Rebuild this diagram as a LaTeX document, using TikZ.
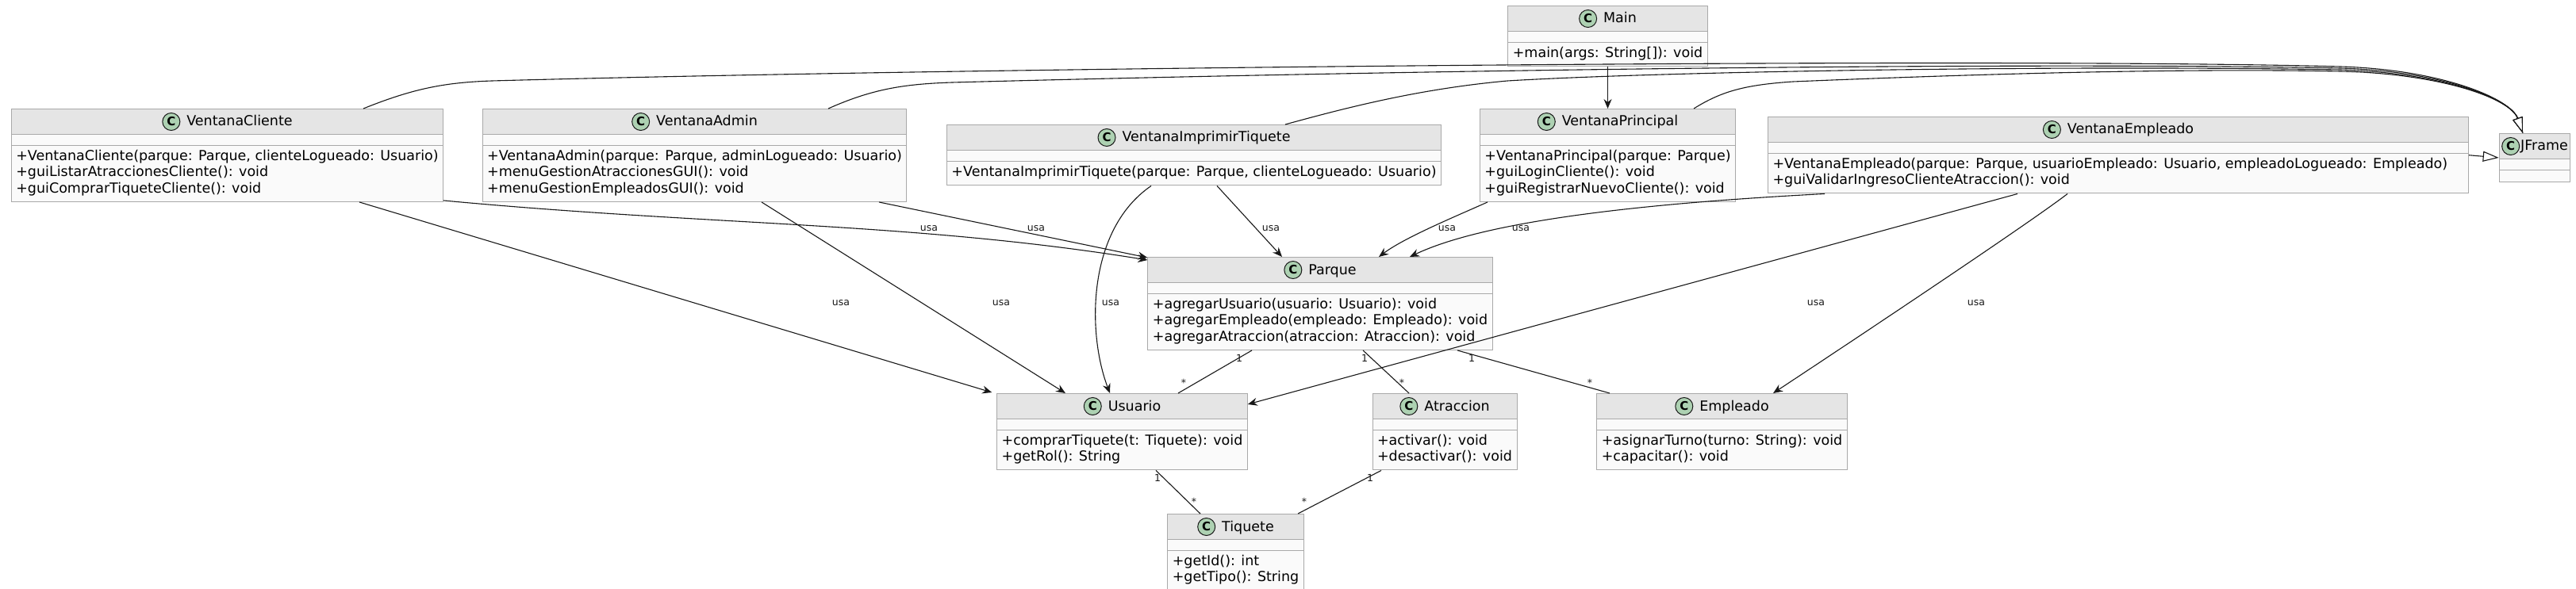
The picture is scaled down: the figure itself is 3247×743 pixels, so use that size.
\documentclass[tikz,border=0pt]{standalone}
\usepackage{fontspec}
\setmainfont{DejaVu Sans}
\usepackage{xcolor}
\usepackage{tikz}
\usetikzlibrary{arrows.meta,shapes.multipart}

\definecolor{headgray}{HTML}{E5E5E5}
\definecolor{bodygray}{HTML}{FAFAFA}
\definecolor{boxgray}{HTML}{A9A9A9}
\definecolor{spotgreen}{HTML}{ADD1B2}
\definecolor{ink}{HTML}{181818}

\newcommand{\spot}{\tikz[baseline={([yshift=-5.5pt]sp.center)}]\node[circle,draw=ink,fill=spotgreen,line width=1pt,minimum size=22pt,inner sep=0pt,font=\bfseries\fontsize{15}{15}\selectfont](sp){C};}
\newcommand{\hd}[2][8pt]{\rule[-6pt]{0pt}{23pt}\spot\hspace{#1}#2}
\newcommand{\topl}{\rule{0pt}{14pt}}
\newcommand{\botl}{\rule[-6.5pt]{0pt}{6.5pt}}
\newcommand{\onel}{\rule[-6.5pt]{0pt}{21pt}}

\begin{document}
\begin{tikzpicture}[x=1pt,y=-1pt,
  umlclass/.style={rectangle split,rectangle split parts=3,draw=boxgray,line width=1pt,
    rectangle split part fill={headgray,bodygray,bodygray},
    rectangle split part align={center,left,left},
    rectangle split empty part height=0pt,rectangle split empty part depth=0pt,
    rectangle split empty part width=0pt,
    inner xsep=6pt,inner ysep=4pt,align=left,anchor=north,
    font=\fontsize{17.5}{20.5}\selectfont},
  dep/.style={draw=ink,line width=1.1pt,-{Stealth[length=12pt,width=10pt,inset=4pt]}},
  gen/.style={draw=ink,line width=1.1pt,-{Triangle[length=20pt,width=13pt,fill=white]}},
  assoc/.style={draw=ink,line width=1.1pt},
  usalab/.style={font=\fontsize{12.5}{14}\selectfont,inner sep=0pt,anchor=base,text=ink},
  mult/.style={font=\fontsize{12.5}{14}\selectfont,inner sep=0pt,anchor=base,text=ink}]
\useasboundingbox (0,0) rectangle (3247,743);

% classes
\node[umlclass] (main) at (2026.5,7) {\hd{Main}\nodepart{two}\nodepart{three}\onel+main(args: String[]): void};
\node[umlclass] (vc) at (286.5,137) {\hd{VentanaCliente}\nodepart{two}\nodepart{three}\topl+VentanaCliente(parque: Parque, clienteLogueado: Usuario)\\+guiListarAtraccionesCliente(): void\\+guiComprarTiqueteCliente(): void\botl};
\node[umlclass] (va) at (875.5,137) {\hd{VentanaAdmin}\nodepart{two}\nodepart{three}\topl+VentanaAdmin(parque: Parque, adminLogueado: Usuario)\\+menuGestionAtraccionesGUI(): void\\+menuGestionEmpleadosGUI(): void\botl};
\node[umlclass] (vit) at (1505,157) {\hd{VentanaImprimirTiquete}\nodepart{two}\nodepart{three}\onel+VentanaImprimirTiquete(parque: Parque, clienteLogueado: Usuario)};
\node[umlclass] (vp) at (2026.5,137) {\hd{VentanaPrincipal}\nodepart{two}\nodepart{three}\topl+VentanaPrincipal(parque: Parque)\\+guiLoginCliente(): void\\+guiRegistrarNuevoCliente(): void\botl};
\node[umlclass,minimum width=883pt] (ve) at (2670,147) {\hd{VentanaEmpleado}\nodepart{two}\nodepart{three}\topl+VentanaEmpleado(parque: Parque, usuarioEmpleado: Usuario, empleadoLogueado: Empleado)\\+guiValidarIngresoClienteAtraccion(): void\botl};
\node[umlclass,inner xsep=3pt] (jf) at (3195,168) {\hd[1pt]{JFrame}\nodepart{two}\nodepart{three}};
\node[umlclass] (pq) at (1664,324) {\hd{Parque}\nodepart{two}\nodepart{three}\topl+agregarUsuario(usuario: Usuario): void\\+agregarEmpleado(empleado: Empleado): void\\+agregarAtraccion(atraccion: Atraccion): void\botl};
\node[umlclass] (us) at (1414.5,496) {\hd{Usuario}\nodepart{two}\nodepart{three}\topl+comprarTiquete(t: Tiquete): void\\+getRol(): String\botl};
\node[umlclass] (at) at (1821,496) {\hd{Atraccion}\nodepart{two}\nodepart{three}\topl+activar(): void\\+desactivar(): void\botl};
\node[umlclass] (em) at (2170.5,496) {\hd{Empleado}\nodepart{two}\nodepart{three}\topl+asignarTurno(turno: String): void\\+capacitar(): void\botl};
\node[umlclass] (tq) at (1557.5,648) {\hd{Tiquete}\nodepart{two}\nodepart{three}\topl+getId(): int\\+getTipo(): String\botl};

% herencia hacia JFrame
\draw[gen] ([xshift=171.5pt]vc.north) .. controls (520,112) and (560,104) .. (620,102) .. controls (1200,86) and (2500,72) .. (2950,84) .. controls (3080,88) and (3165,125) .. ([xshift=-15pt]jf.north);
\draw[gen] ([xshift=168.5pt]va.north) .. controls (1100,112) and (1140,106) .. (1200,104) .. controls (1800,88) and (2550,78) .. (2950,86) .. controls (3080,90) and (3165,125) .. ([xshift=-15pt]jf.north);
\draw[gen] ([xshift=115pt]vit.north) .. controls (1700,135) and (1790,112) .. (1900,102) .. controls (2100,90) and (2600,82) .. (2950,88) .. controls (3080,92) and (3165,125) .. ([xshift=-15pt]jf.north);
\draw[gen] ([xshift=108.5pt]vp.north) .. controls (2170,115) and (2200,107) .. (2260,103) .. controls (2500,93) and (2750,86) .. (2950,90) .. controls (3080,93) and (3165,125) .. ([xshift=-15pt]jf.north);
\draw[gen] (ve.east) -- (jf.west);

% dependencias "usa"
\draw[dep] (main.south) -- (vp.north);
\draw[dep] ([yshift=2pt]vc.south east) .. controls (900,285) and (1150,280) .. ([yshift=-4pt]pq.north west);
\draw[dep] ([xshift=232.5pt]va.south) -- ([yshift=-1pt]pq.north west);
\draw[dep] ([xshift=166.5pt]vc.south) -- ([xshift=-6pt,yshift=1pt]us.north west);
\draw[dep] ([xshift=84.5pt]va.south) -- ([xshift=-71.5pt]us.north);
\draw[dep] ([xshift=-54pt]vit.south) .. controls (1370,290) and (1370,420) .. ([xshift=-15.5pt]us.north);
\draw[dep] ([xshift=29pt]vit.south) -- ([xshift=-48pt]pq.north);
\draw[dep] ([xshift=-151.5pt]vp.south) .. controls (1830,275) and (1770,300) .. ([xshift=74pt]pq.north);
\draw[dep] ([xshift=-370pt]ve.south) .. controls (2100,255) and (1880,275) .. ([xshift=113pt]pq.north);
\draw[dep] ([xshift=-127pt]ve.south) -- ([yshift=-14pt]us.north east);
\draw[dep] ([xshift=-64pt]ve.south) .. controls (2560,280) and (2350,420) .. ([xshift=64.5pt]em.north);
\foreach \x/\y in {1171/291,1306/291,1602/291,1824/291,1917/291,1060/385,1262/385,1400/385,2289/385,2491/385}
  \node[usalab] at (\x,\y) {usa};

% asociaciones
\draw[assoc] ([xshift=-86pt]pq.south) -- ([xshift=70.5pt]us.north);
\draw[assoc] ([xshift=54pt]pq.south) -- ([xshift=-45pt]at.north);
\draw[assoc] ([xshift=173pt]pq.south) -- ([xshift=-141.5pt]em.north);
\draw[assoc] ([xshift=42.5pt]us.south) -- ([xshift=-44.5pt]tq.north);
\draw[assoc] ([xshift=-80pt]at.south) -- ([xshift=78.5pt]tq.north);
\foreach \x/\y in {1562/456.5,1720/456.5,1855/456.5,1459/607.5,1727/607.5}
  \node[mult] at (\x,\y) {1};
\foreach \x/\y in {1492/487.5,1767/487.5,2004/487.5,1505/637.5,1644/637.5}
  \node[mult] at (\x,\y) {*};
\end{tikzpicture}
\end{document}
